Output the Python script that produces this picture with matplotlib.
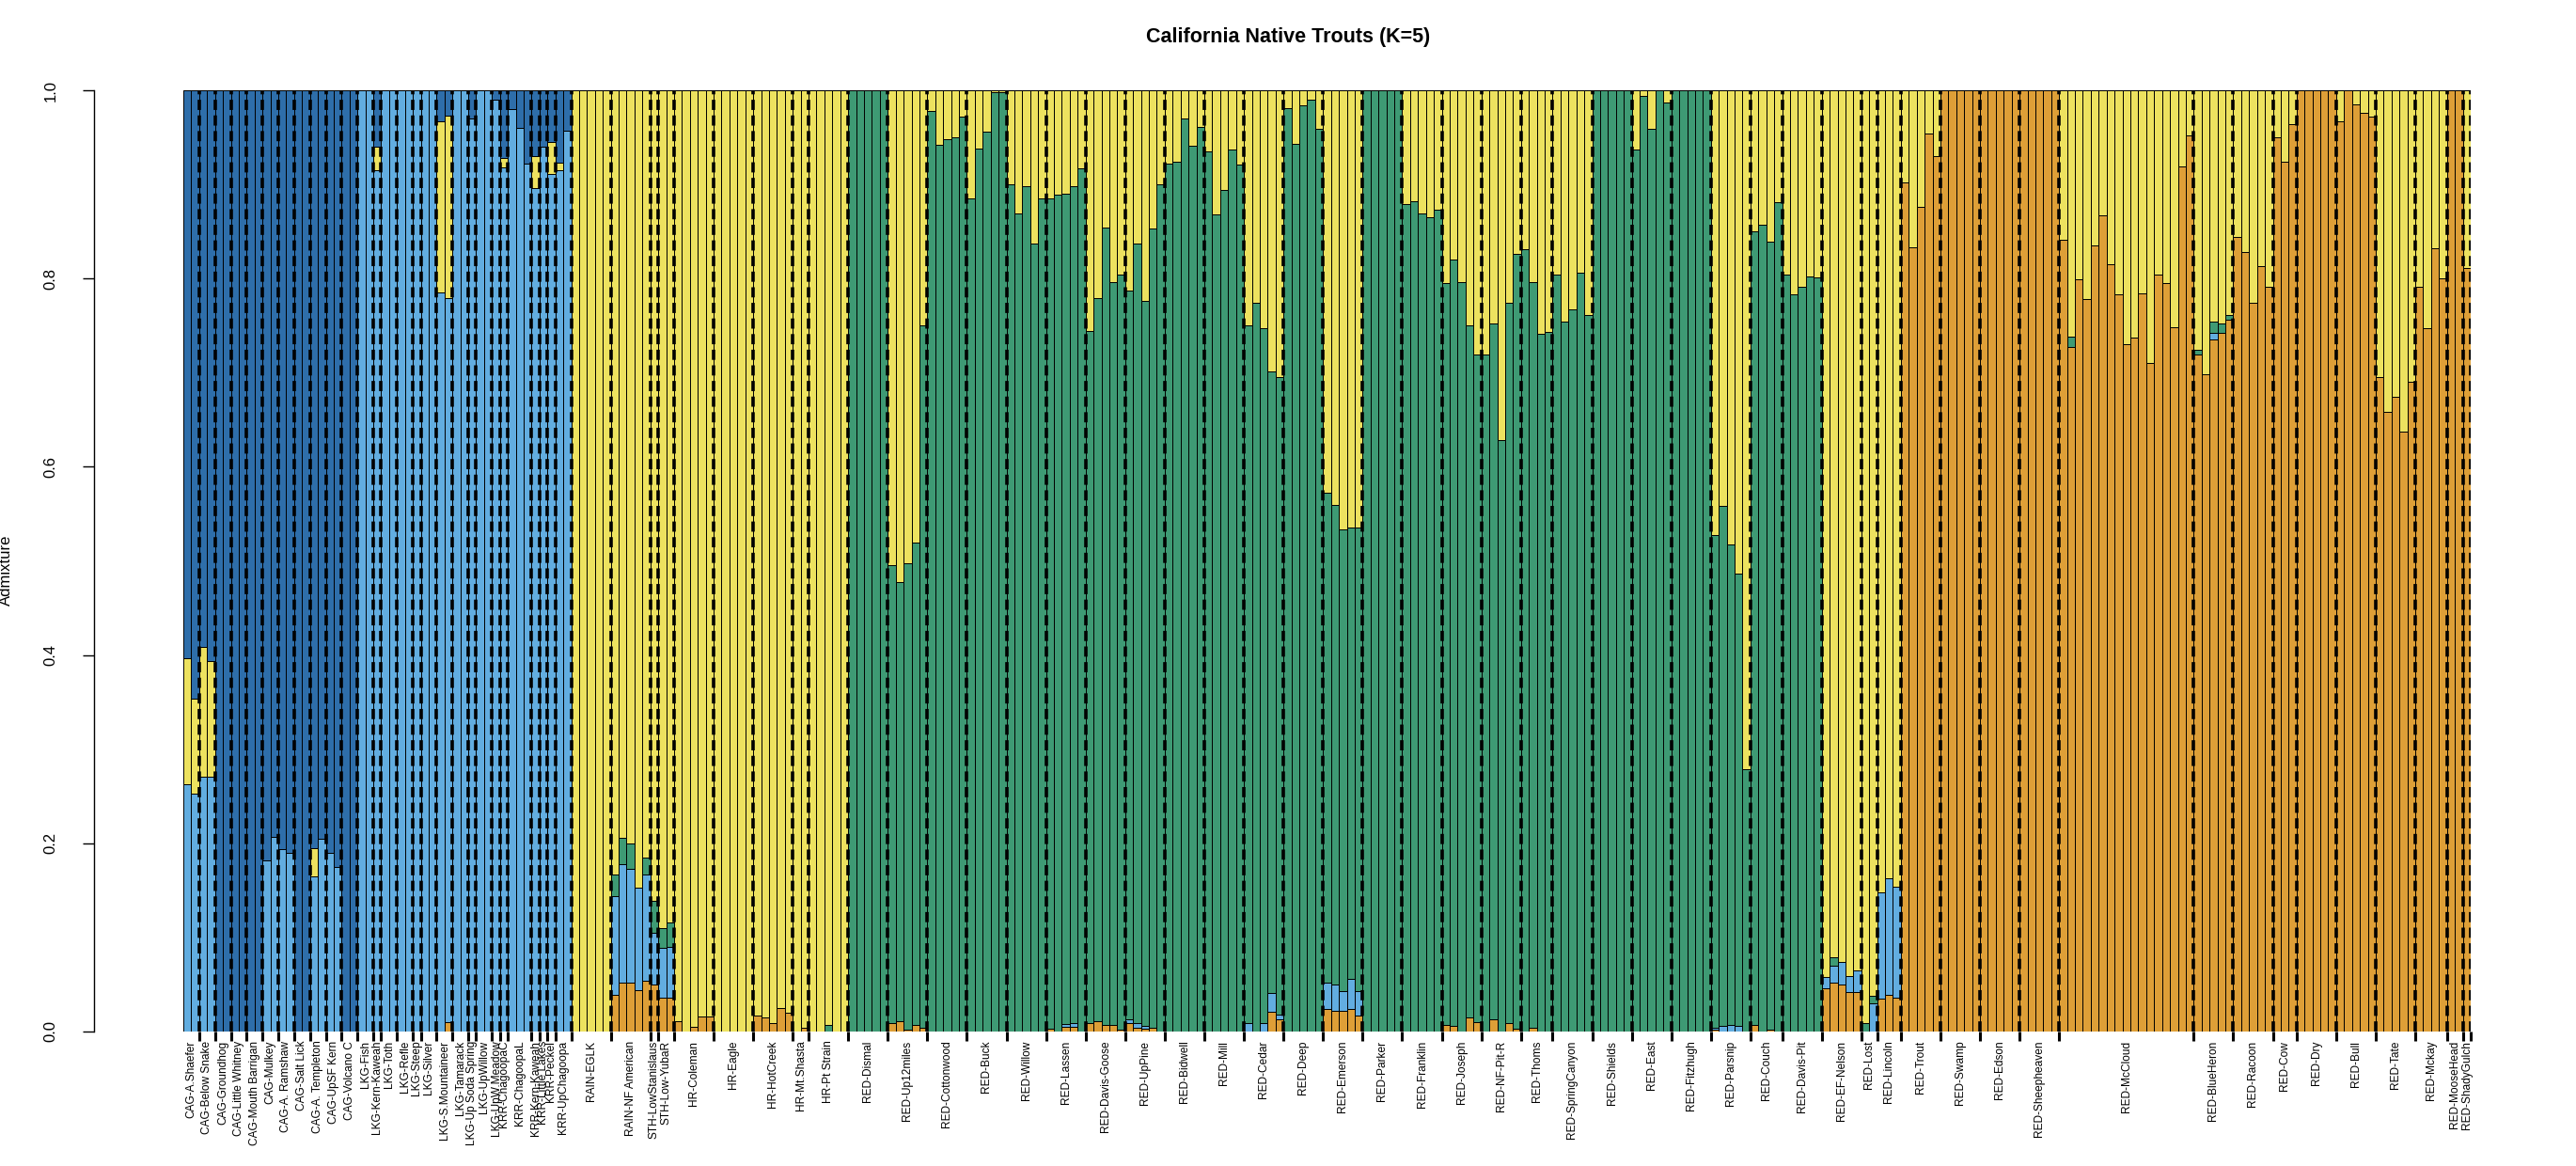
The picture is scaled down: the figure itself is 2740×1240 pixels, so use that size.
import numpy as np
import matplotlib
matplotlib.use("Agg")
import matplotlib.pyplot as plt

# ---------------- data ----------------
pops = ["CAG-A.Shaefer", "CAG-Below Snake", "CAG-Groundhog", "CAG-Little Whitney",
        "CAG-Mouth Barrigan", "CAG-Mulkey", "CAG-A. Ramshaw", "CAG-Salt Lick",
        "CAG-A. Templeton", "CAG-UpSF Kern", "CAG-Volcano C",
        "LKG-Fish", "LKG-Kern-Kaweah", "LKG-Toth", "LKG-Refle", "LKG-Steep", "LKG-Silver",
        "LKG-S.Mountaineer", "LKG-Tamarack", "LKG-Up Soda Spring", "LKG-UpWillow",
        "LKG-UpW.Meadow", "KRR-ChagoopaC", "KRR-ChagoopaL", "KRR-Kern-Kaweah",
        "KRR-Little Lakes", "KRR-Peckel", "KRR-UpChagoopa",
        "RAIN-EGLK", "RAIN-NF American", "STH-LowStanislaus", "STH-Low-YubaR",
        "HR-Coleman", "HR-Eagle", "HR-HotCreek", "HR-Mt.Shasta", "HR-Pt Strain",
        "RED-Dismal", "RED-Up12miles", "RED-Cottonwood", "RED-Buck", "RED-Willow",
        "RED-Lassen", "RED-Davis-Goose", "RED-UpPine", "RED-Bidwell", "RED-Mill",
        "RED-Cedar", "RED-Deep", "RED-Emerson", "RED-Parker", "RED-Franklin",
        "RED-Joseph", "RED-NF-Pit-R", "RED-Thoms", "RED-SpringCanyon", "RED-Shields",
        "RED-East", "RED-Fitzhugh", "RED-Parsnip", "RED-Couch", "RED-Davis-Pit",
        "RED-EF-Nelson", "RED-Lost", "RED-Lincoln", "RED-Trout", "RED-Swamp",
        "RED-Edson", "RED-Sheepheaven", "RED-McCloud", "RED-BlueHeron", "RED-Racoon",
        "RED-Cow", "RED-Dry", "RED-Bull", "RED-Tate", "RED-Mckay", "RED-MooseHead",
        "RED-ShadyGulch"]

sizes = [2, 2, 2, 2, 2, 2, 2, 2, 2, 2, 2,
         2, 1, 2, 2, 1, 2, 2, 2, 1, 2, 1, 1, 3, 1, 1, 1, 2,
         5, 5, 1, 2, 5, 5, 5, 2, 5,
         5, 5, 5, 5, 5, 5, 5, 5, 5, 5, 5, 5, 5, 5, 5, 5, 5, 4, 5, 5,
         5, 5, 5, 4, 5, 5, 2, 3, 5, 5, 5, 5, 17, 5, 5, 3, 5, 5, 5, 4, 2, 1]

# cluster 1 (orange)
orange = [
    0, 0, 0, 0, 0, 0, 0, 0, 0, 0, 0, 0, 0, 0, 0, 0, 0, 0, 0, 0, 0, 0,      # CAG
    0, 0, 0, 0, 0, 0, 0, 0, 0, 0, 0, .010, 0, 0, 0, 0, 0, 0, 0, 0, 0, 0, 0, 0, 0, 0, 0,  # LKG/KRR
    0, 0, 0, 0, 0,                      # RAIN-EGLK
    .039, .052, .052, .044, .054,       # RAIN-NF
    .050,                               # STH-LS
    .036, .036,                         # STH-LY
    .011, 0, .005, .016, .016,          # Coleman
    0, 0, 0, 0, 0,                      # Eagle
    .017, .015, .009, .025, .020,       # HotCreek
    0, .004,                            # Mt.Shasta
    0, 0, 0, 0, 0,                      # Pt Strain
    0, 0, 0, 0, 0,                      # Dismal
    .009, .011, .002, .007, .004,       # Up12miles
    0, 0, 0, 0, 0,                      # Cottonwood
    0, 0, 0, 0, 0,                      # Buck
    0, 0, 0, 0, 0,                      # Willow
    .003, 0, .005, .005, 0,             # Lassen
    .009, .011, .007, .007, .002,       # Davis-Goose
    .009, .004, .003, .004, 0,          # UpPine
    0, 0, 0, 0, 0,                      # Bidwell
    0, 0, 0, 0, 0,                      # Mill
    0, 0, 0, .021, .013,                # Cedar
    0, 0, 0, 0, 0,                      # Deep
    .024, .022, .022, .024, .017,       # Emerson
    0, 0, 0, 0, 0,                      # Parker
    0, 0, 0, 0, 0,                      # Franklin
    .007, .006, 0, .015, .010,          # Joseph
    0, .013, 0, .009, .003,             # NF-Pit-R
    0, .004, 0, 0,                      # Thoms
    0, 0, 0, 0, 0,                      # SpringCanyon
    0, 0, 0, 0, 0,                      # Shields
    0, 0, 0, 0, 0,                      # East
    0, 0, 0, 0, 0,                      # Fitzhugh
    .002, 0, 0, 0, 0,                   # Parsnip
    .007, 0, .002, 0,                   # Couch
    0, 0, 0, 0, 0,                      # Davis-Pit
    .046, .052, .050, .042, .042,       # EF-Nelson
    0, 0,                               # Lost
    .035, .039, .036,                   # Lincoln
    .902, .833, .876, .954, .930,       # Trout
    1, 1, 1, 1, 1,                      # Swamp
    1, 1, 1, 1, 1,                      # Edson
    1, 1, 1, 1, 1,                      # Sheepheaven
    .841, .727, .799, .778, .835, .867, .815, .783, .730, .737, .784, .710,
    .804, .795, .748, .919, .952,       # McCloud
    .719, .698, .735, .742, .756,       # BlueHeron
    .844, .828, .774, .813, .791,       # Racoon
    .950, .924, .964,                   # Cow
    1, 1, 1, 1, 1,                      # Dry
    .967, 1, .985, .976, .972,          # Bull
    .695, .658, .674, .637, .690,       # Tate
    .791, .747, .832, .800,             # Mckay
    1, 1,                               # MooseHead
    .811]                               # ShadyGulch

# cluster 2 (light blue)
lblue = [
    .263, .253, .271, .271, 0, 0, 0, 0, 0, 0, .182, .207, .194, .190, 0, 0,
    .165, .205, .190, .175, 0, 0,                                   # CAG
    1, 1, .915, 1, 1, 1, 1, 1, 1, 1, .785, .769, 1, 1, .970, 1, 1, .990,
    .918, .980, .960, .922, .896, .940, .911, .915, .957,           # LKG/KRR
    0, 0, 0, 0, 0,
    .105, .126, .121, .109, .113,
    .055,
    .053, .054,
    0, 0, 0, 0, 0, 0, 0, 0, 0, 0, 0, 0, 0, 0, 0, 0, 0, 0, 0, 0, 0, 0,  # HR
    0, 0, 0, 0, 0,                      # Dismal
    0, 0, 0, 0, 0,                      # Up12miles
    0, 0, 0, 0, 0,                      # Cottonwood
    0, 0, 0, 0, 0,                      # Buck
    0, 0, 0, 0, 0,                      # Willow
    0, 0, .003, .004, 0,                # Lassen
    0, 0, 0, 0, 0,                      # Davis-Goose
    .004, .005, .003, 0, 0,             # UpPine
    0, 0, 0, 0, 0,                      # Bidwell
    0, 0, 0, 0, 0,                      # Mill
    .009, 0, .009, .020, .005,          # Cedar
    0, 0, 0, 0, 0,                      # Deep
    .028, .028, .021, .032, .026,       # Emerson
    0, 0, 0, 0, 0,                      # Parker
    0, 0, 0, 0, 0,                      # Franklin
    0, 0, 0, 0, 0,                      # Joseph
    0, 0, 0, 0, 0,                      # NF-Pit-R
    0, 0, 0, 0,                         # Thoms
    0, 0, 0, 0, 0,                      # SpringCanyon
    0, 0, 0, 0, 0,                      # Shields
    0, 0, 0, 0, 0,                      # East
    0, 0, 0, 0, 0,                      # Fitzhugh
    .002, .006, .007, .006, 0,          # Parsnip
    0, 0, 0, 0,                         # Couch
    0, 0, 0, 0, 0,                      # Davis-Pit
    .012, .018, .024, .017, .023,       # EF-Nelson
    0, .030,                            # Lost
    .113, .124, .118,                   # Lincoln
    0, 0, 0, 0, 0,                      # Trout
    0, 0, 0, 0, 0,                      # Swamp
    0, 0, 0, 0, 0,                      # Edson
    0, 0, 0, 0, 0,                      # Sheepheaven
    0, 0, 0, 0, 0, 0, 0, 0, 0, 0, 0, 0, 0, 0, 0, 0, 0,  # McCloud
    0, 0, .007, 0, 0,                   # BlueHeron
    0, 0, 0, 0, 0,                      # Racoon
    0, 0, 0,                            # Cow
    0, 0, 0, 0, 0,                      # Dry
    0, 0, 0, 0, 0,                      # Bull
    0, 0, 0, 0, 0,                      # Tate
    0, 0, 0, 0,                         # Mckay
    0, 0,                               # MooseHead
    0]                                  # ShadyGulch

# cluster 3 (green)
green = [
    0, 0, 0, 0, 0, 0, 0, 0, 0, 0, 0, 0, 0, 0, 0, 0, 0, 0, 0, 0, 0, 0,
    0, 0, 0, 0, 0, 0, 0, 0, 0, 0, 0, 0, 0, 0, 0, 0, 0, 0, 0, 0, 0, 0, 0, 0, 0, 0, 0,
    0, 0, 0, 0, 0,
    .023, .028, .027, 0, .018,
    .034,
    .021, .026,
    0, 0, 0, 0, 0,
    0, 0, 0, 0, 0,
    0, 0, 0, 0, 0,
    0, 0,
    0, 0, .007, 0, 0,
    1, 1, 1, 1, 1,                      # Dismal
    .487, .467, .496, .512, .746,       # Up12miles
    .978, .942, .948, .950, .972,       # Cottonwood
    .885, .938, .956, .998, .998,       # Buck
    .900, .869, .898, .837, .885,       # Willow
    .882, .889, .882, .889, .917,       # Lassen
    .735, .768, .847, .789, .802,       # Davis-Goose
    .774, .828, .770, .849, .900,       # UpPine
    .922, .924, .970, .941, .961,       # Bidwell
    .935, .868, .894, .937, .921,       # Mill
    .741, .774, .738, .660, .677,       # Cedar
    .981, .943, .984, .990, .959,       # Deep
    .520, .509, .490, .479, .492,       # Emerson
    1, 1, 1, 1, 1,                      # Parker
    .879, .882, .869, .865, .873,       # Franklin
    .788, .814, .796, .735, .709,       # Joseph
    .719, .739, .628, .765, .823,       # NF-Pit-R
    .831, .792, .741, .743,             # Thoms
    .804, .754, .767, .806, .761,       # SpringCanyon
    1, 1, 1, 1, 1,                      # Shields
    .937, .994, .959, 1, .987,          # East
    1, 1, 1, 1, 1,                      # Fitzhugh
    .523, .552, .510, .481, .279,       # Parsnip
    .843, .857, .837, .881,             # Couch
    .804, .783, .791, .802, .801,       # Davis-Pit
    0, .009, 0, 0, 0,                   # EF-Nelson
    .009, .008,                         # Lost
    0, 0, 0,                            # Lincoln
    0, 0, 0, 0, 0,                      # Trout
    0, 0, 0, 0, 0,                      # Swamp
    0, 0, 0, 0, 0,                      # Edson
    0, 0, 0, 0, 0,                      # Sheepheaven
    0, .011, 0, 0, 0, 0, 0, 0, 0, 0, 0, 0, 0, 0, 0, 0, 0,  # McCloud
    .005, 0, .012, .010, .005,          # BlueHeron
    0, 0, 0, 0, 0,                      # Racoon
    0, 0, 0,                            # Cow
    0, 0, 0, 0, 0,                      # Dry
    0, 0, 0, 0, 0,                      # Bull
    0, 0, 0, 0, 0,                      # Tate
    0, 0, 0, 0,                         # Mckay
    0, 0,                               # MooseHead
    0]                                  # ShadyGulch

# cluster 4 (yellow)
yellow = [
    .134, .101, .138, .123, 0, 0, 0, 0, 0, 0, 0, 0, 0, 0, 0, 0, .030, 0, 0, 0, 0, 0,
    0, 0, .025, 0, 0, 0, 0, 0, 0, 0, .182, .194, 0, 0, 0, 0, 0, 0,
    .010, 0, 0, 0, .034, 0, .034, .008, 0,
    1, 1, 1, 1, 1,                      # RAIN-EGLK
    .833, .794, .800, .847, .815,       # RAIN-NF
    .861,                               # STH-LS
    .890, .884,                         # STH-LY
    .989, 1, .995, .984, .984,          # Coleman
    1, 1, 1, 1, 1,                      # Eagle
    .983, .985, .991, .975, .980,       # HotCreek
    1, .996,                            # Mt.Shasta
    1, 1, .993, 1, 1,                   # Pt Strain
    0, 0, 0, 0, 0,                      # Dismal
    .504, .522, .502, .481, .250,       # Up12miles
    .022, .058, .052, .050, .028,       # Cottonwood
    .115, .062, .044, .002, .002,       # Buck
    .100, .131, .102, .163, .115,       # Willow
    .115, .111, .110, .102, .083,       # Lassen
    .256, .221, .146, .204, .196,       # Davis-Goose
    .213, .163, .224, .147, .100,       # UpPine
    .078, .076, .030, .059, .039,       # Bidwell
    .065, .132, .106, .063, .079,       # Mill
    .250, .226, .253, .299, .305,       # Cedar
    .019, .057, .016, .010, .041,       # Deep
    .428, .441, .467, .465, .465,       # Emerson
    0, 0, 0, 0, 0,                      # Parker
    .121, .118, .131, .135, .127,       # Franklin
    .205, .180, .204, .250, .281,       # Joseph
    .281, .248, .372, .226, .174,       # NF-Pit-R
    .169, .204, .259, .257,             # Thoms
    .196, .246, .233, .194, .239,       # SpringCanyon
    0, 0, 0, 0, 0,                      # Shields
    .063, .006, .041, 0, .013,          # East
    0, 0, 0, 0, 0,                      # Fitzhugh
    .473, .442, .483, .513, .721,       # Parsnip
    .150, .143, .161, .119,             # Couch
    .196, .217, .209, .198, .199,       # Davis-Pit
    .942, .921, .926, .941, .935,       # EF-Nelson
    .991, .962,                         # Lost
    .852, .837, .846,                   # Lincoln
    .098, .167, .124, .046, .070,       # Trout
    0, 0, 0, 0, 0,                      # Swamp
    0, 0, 0, 0, 0,                      # Edson
    0, 0, 0, 0, 0,                      # Sheepheaven
    .159, .262, .201, .222, .165, .133, .185, .217, .270, .263, .216, .290,
    .196, .205, .252, .081, .048,       # McCloud
    .276, .302, .246, .248, .239,       # BlueHeron
    .156, .172, .226, .187, .209,       # Racoon
    .050, .076, .036,                   # Cow
    0, 0, 0, 0, 0,                      # Dry
    .033, 0, .015, .024, .028,          # Bull
    .305, .342, .326, .363, .310,       # Tate
    .209, .253, .168, .200,             # Mckay
    0, 0,                               # MooseHead
    .189]                               # ShadyGulch

# cluster 5 (dark blue)
dblue = [
    .603, .646, .591, .606, 1, 1, 1, 1, 1, 1, .818, .793, .806, .810, 1, 1,
    .805, .795, .810, .825, 1, 1,                                   # CAG
    0, 0, .060, 0, 0, 0, 0, 0, 0, 0, .033, .027, 0, 0, .030, 0, 0, .010,
    .072, .020, .040, .078, .070, .060, .055, .077, .043,           # LKG/KRR
    0, 0, 0, 0, 0, 0, 0, 0, 0, 0, 0, 0, 0, 0, 0, 0, 0, 0, 0, 0,
    0, 0, 0, 0, 0, 0, 0, 0, 0, 0, 0, 0, 0, 0, 0,                   # RAIN..HR
    0, 0, 0, 0, 0, 0, 0, 0, 0, 0, 0, 0, 0, 0, 0, 0, 0, 0, 0, 0,
    0, 0, 0, 0, 0, 0, 0, 0, 0, 0, 0, 0, 0, 0, 0, 0, 0, 0, 0, 0,
    0, 0, 0, 0, 0, 0, 0, 0, 0, 0, 0, 0, 0, 0, 0, 0, 0, 0, 0, 0,
    0, 0, 0, 0, 0, 0, 0, 0, 0, 0, 0, 0, 0, 0, 0, 0, 0, 0, 0, 0,
    0, 0, 0, 0, 0, 0, 0, 0, 0, 0, 0, 0, 0, 0, 0, 0, 0, 0, 0, 0,
    0, 0, 0, 0, 0, 0, 0, 0, 0, 0, 0, 0, 0, 0, 0, 0, 0, 0, 0, 0,
    0, 0, 0, 0, 0, 0, 0, 0, 0, 0, 0, 0, 0, 0, 0, 0, 0, 0, 0, 0,
    0, 0, 0, 0, 0, 0, 0, 0, 0, 0, 0, 0, 0, 0, 0, 0, 0, 0, 0, 0,
    0, 0, 0, 0, 0, 0, 0, 0, 0, 0, 0, 0, 0, 0, 0, 0, 0, 0, 0, 0,
    0, 0, 0, 0, 0, 0, 0, 0, 0, 0, 0, 0, 0, 0, 0, 0, 0, 0, 0, 0,
    0, 0, 0, 0, 0]

clusters = [orange, lblue, green, yellow, dblue]
cluster_colors = ["#DE9F37", "#62ADE0", "#3E9A74", "#EDE25F", "#2E6EAA"]

yticks = [0.0, 0.2, 0.4, 0.6, 0.8, 1.0]
ytick_labels = ["0.0", "0.2", "0.4", "0.6", "0.8", "1.0"]
title = "California Native Trouts (K=5)"
ylabel = "Admixture"

# ---------------- layout (pixels) ----------------
W, H = 2740, 1240
px_axis = 100      # y-axis line
px_bar0 = 195      # first bar left edge
px_right = 2628    # last bar right edge
px_top = 96
px_bot = 1097

N = sum(sizes)
for c in clusters:
    assert len(c) == N, (len(c), N)
bw = (px_right - px_bar0) / N
x0 = -(px_bar0 - px_axis) / bw

fig = plt.figure(figsize=(W / 100, H / 100), dpi=100)
ax = fig.add_axes([px_axis / W, (H - px_bot) / H,
                   (px_right - px_axis) / W, (px_bot - px_top) / H])
ax.set_xlim(x0, N)
ax.set_ylim(0, 1)

x = np.arange(N)
bottom = np.zeros(N)
for vals, col in zip(clusters, cluster_colors):
    v = np.asarray(vals, dtype=float)
    ax.bar(x, v, width=1.0, bottom=bottom, align="edge", color=col,
           edgecolor="black", linewidth=0.7, zorder=2)
    bottom += v

bounds = np.cumsum(sizes)
centers = bounds - np.asarray(sizes) / 2.0

ax.vlines(bounds, 0, 1, colors="black", linewidth=2.6,
          linestyles=(0, (3.0, 1.6)), zorder=3, capstyle="butt")

for s in ["top", "right", "bottom"]:
    ax.spines[s].set_visible(False)
ax.spines["left"].set_bounds(0, 1)
ax.spines["left"].set_linewidth(1.0)

ax.set_yticks(yticks, ytick_labels, rotation=90, ha="center", va="center",
              fontsize=12, family=["Liberation Sans", "DejaVu Sans"])
ax.tick_params(axis="y", length=9, width=1.0, pad=24)

ax.xaxis.remove_overlapping_locs = False
ax.set_xticks(bounds)
ax.set_xticklabels([])
ax.tick_params(axis="x", which="major", length=7, width=2.2, direction="out")
ax.set_xticks(centers, minor=True)
ax.set_xticklabels(pops, minor=True, rotation=90, ha="center", va="top",
                   fontsize=8.6, family=["Liberation Sans Narrow", "Liberation Sans", "DejaVu Sans"])
ax.tick_params(axis="x", which="minor", length=0, pad=7)

fig.text(1370 / W, 1 - 40 / H, title, ha="center", va="center",
         fontsize=15.5, fontweight="bold", family=["Liberation Sans", "DejaVu Sans"])
fig.text(6 / W, 1 - 606 / H, ylabel, ha="center", va="center", rotation=90,
         fontsize=12, family=["Liberation Sans", "DejaVu Sans"])

fig.savefig("out.png", dpi=100)
